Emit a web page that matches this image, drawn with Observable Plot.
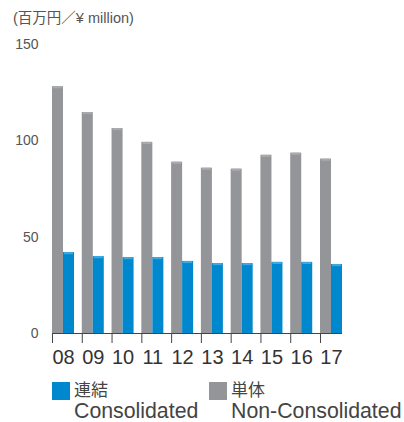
<!DOCTYPE html>
<html>
<head>
<meta charset="utf-8">
<script src="https://cdn.jsdelivr.net/npm/d3@7"></script>
<script src="https://cdn.jsdelivr.net/npm/@observablehq/plot@0.6"></script>
<style>
  html, body { margin: 0; padding: 0; background: #fff; }
  #wrap { position: relative; width: 404px; height: 422px; font-family: "Liberation Sans", "Noto Sans CJK JP", sans-serif; }
  #title { position: absolute; left: 13px; top: 6px; font-size: 14.5px; color: #555; white-space: nowrap; }
  #chart { position: absolute; left: 0; top: 30px; }
  .lg { position: absolute; top: 380px; }
  .sw { position: absolute; left: 0; top: 2px; width: 18px; height: 18px; }
  .l1 { position: absolute; left: 22px; top: 1px; font-size: 17px; color: #444; white-space: nowrap; line-height: 20px; }
  .l2 { position: absolute; left: 22px; top: 20px; font-size: 21.3px; color: #444; white-space: nowrap; line-height: 22px; }
</style>
</head>
<body>
<div id="wrap">
  <div id="title">(百万円／¥ million)</div>
  <div id="chart"></div>
  <div class="lg" style="left:52px"><div class="sw" style="background:#0088ce"></div><div class="l1">連結</div><div class="l2">Consolidated</div></div>
  <div class="lg" style="left:209px"><div class="sw" style="background:#939598"></div><div class="l1">単体</div><div class="l2">Non-Consolidated</div></div>
</div>
<script>
const years = ["08","09","10","11","12","13","14","15","16","17"];
const nonConsolidated = [128.1, 114.7, 106.4, 99.2, 88.9, 85.8, 85.3, 92.5, 93.6, 90.5];
const consolidated = [42.0, 39.9, 39.4, 39.4, 37.4, 36.3, 36.3, 36.9, 36.9, 35.8];
const yTicks = [0, 50, 100, 150];

const grayData = years.map((y, i) => ({year: y, value: nonConsolidated[i]}));
const blueData = years.map((y, i) => ({year: y, value: consolidated[i]}));

const chart = Plot.plot({
  width: 404,
  height: 342,
  marginTop: 14,
  marginBottom: 39,
  marginLeft: 52,
  marginRight: 62,
  style: {fontFamily: '"Liberation Sans", sans-serif', background: "transparent"},
  x: {domain: years, paddingInner: 0.261, paddingOuter: 0, round: false, label: null},
  y: {domain: [0, 150], label: null},
  marks: [
    Plot.barY(grayData, {x: "year", y: "value", fill: "#939598", insetRight: 11}),
    Plot.barY(blueData, {x: "year", y: "value", fill: "#0088ce", insetLeft: 11}),
    // subtle lighter caps at bar tops
    Plot.barY(grayData, {x: "year", y1: d => d.value - 1.1, y2: "value", fill: "#a9aaad", insetRight: 12, insetLeft: 1}),
    Plot.barY(blueData, {x: "year", y1: d => d.value - 1.1, y2: "value", fill: "#40a8de", insetLeft: 12, insetRight: 1}),
    Plot.ruleY([0], {stroke: "#444", strokeWidth: 1}),
    Plot.axisX({tickSize: 10, tickFormat: () => "", dx: -11, stroke: "#444", label: null}),
    Plot.axisY(yTicks, {tickSize: 0, tickPadding: 14, fontSize: 14, fill: "#555", label: null}),
    Plot.axisX({tickSize: 0, tickPadding: 16, fontSize: 20, fill: "#333", label: null})
  ]
});
document.getElementById("chart").appendChild(chart);
</script>
</body>
</html>
